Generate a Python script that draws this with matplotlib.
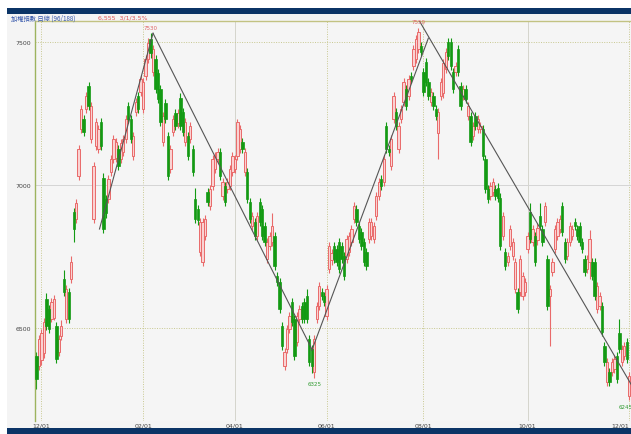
import numpy as np
import matplotlib.pyplot as plt
from matplotlib.patches import Rectangle

# daily candles (price units)
OPEN = [
    6400, 6365, 6385, 6410, 6600, 6565, 6530, 6535, 6505, 6415,
    6470, 6670, 6530, 6625, 6670, 6905, 6880, 7030, 7195, 7230,
    7265, 7345, 7160, 6880, 7135, 7125, 7220, 7025, 6950, 6950,
    7045, 7090, 7095, 7125, 7090, 7115, 7160, 7275, 7230, 7100,
    7255, 7310, 7325, 7265, 7380, 7440, 7510, 7395, 7440, 7390,
    7335, 7150, 7285, 7170, 7055, 7185, 7250, 7215, 7305, 7255,
    7150, 7170, 7160, 7125, 6950, 6915, 6765, 6730, 6820, 6975,
    6925, 6995, 7055, 7090, 7115, 6960, 6995, 6985, 6995, 7045,
    7055, 7100, 7125, 7150, 7045, 7045, 6940, 6855, 6870, 6820,
    6940, 6915, 6855, 6740, 6785, 6800, 6820, 6680, 6660, 6505,
    6365, 6425, 6495, 6590, 6530, 6450, 6530, 6575, 6590, 6610,
    6460, 6425, 6345, 6530, 6575, 6625, 6610, 6540, 6705, 6735,
    6785, 6775, 6800, 6785, 6750, 6740, 6765, 6800, 6880, 6915,
    6855, 6835, 6800, 6765, 6810, 6820, 6810, 6890, 6960, 7020,
    7010, 7205, 7125, 7065, 7230, 7255, 7125, 7230, 7290, 7335,
    7310, 7380, 7415, 7440, 7475, 7485, 7395, 7430, 7360, 7290,
    7310, 7265, 7180, 7310, 7320, 7405, 7500, 7500, 7395, 7395,
    7475, 7345, 7310, 7335, 7240, 7240, 7170, 7240, 7195, 7195,
    7195, 7090, 6985, 6960, 6975, 6985, 6990, 6955, 6820, 6765,
    6730, 6785, 6750, 6635, 6625, 6625, 6610, 6625, 6775, 6905,
    6800, 6820, 6805, 6890, 6845, 6870, 6740, 6610, 6695, 6775,
    6820, 6845, 6925, 6800, 6750, 6800, 6820, 6870, 6845, 6855,
    6800, 6740, 6705, 6730, 6730, 6730, 6565, 6575, 6575, 6435,
    6310, 6345, 6345, 6355, 6400, 6480, 6380, 6400, 6450, 6260,
]
HIGH = [
    6415, 6475, 6495, 6535, 6620, 6580, 6605, 6615, 6520, 6475,
    6525, 6700, 6650, 6640, 6750, 6920, 6950, 7140, 7280, 7245,
    7325, 7360, 7290, 7080, 7235, 7210, 7235, 7040, 6965, 7035,
    7105, 7175, 7165, 7140, 7160, 7175, 7245, 7290, 7245, 7185,
    7305, 7325, 7385, 7375, 7455, 7515, 7530, 7490, 7455, 7405,
    7350, 7255, 7300, 7185, 7140, 7245, 7265, 7265, 7320, 7270,
    7235, 7185, 7220, 7140, 6990, 6930, 6885, 6885, 6895, 6990,
    7000, 7105, 7115, 7130, 7130, 7025, 7010, 7025, 7070, 7115,
    7105, 7230, 7210, 7165, 7130, 7060, 6955, 6905, 6885, 6905,
    6955, 6930, 6870, 6815, 6835, 6900, 6835, 6695, 6675, 6520,
    6430, 6510, 6555, 6605, 6545, 6555, 6580, 6590, 6605, 6635,
    6475, 6440, 6475, 6590, 6660, 6640, 6625, 6650, 6800, 6775,
    6800, 6790, 6815, 6800, 6765, 6825, 6835, 6860, 6940, 6930,
    6870, 6850, 6815, 6780, 6885, 6885, 6870, 6975, 7025, 7035,
    7105, 7220, 7140, 7175, 7325, 7270, 7220, 7280, 7375, 7350,
    7385, 7395, 7490, 7525, 7550, 7500, 7410, 7445, 7375, 7340,
    7325, 7280, 7270, 7375, 7440, 7480, 7515, 7515, 7410, 7430,
    7490, 7360, 7350, 7350, 7290, 7255, 7220, 7255, 7245, 7220,
    7210, 7105, 7000, 7010, 7025, 7000, 7005, 6970, 6905, 6780,
    6765, 6860, 6815, 6745, 6640, 6755, 6695, 6675, 6835, 6935,
    6860, 6835, 6865, 6935, 6860, 6940, 6755, 6650, 6745, 6860,
    6885, 6895, 6940, 6815, 6815, 6870, 6860, 6885, 6860, 6870,
    6815, 6755, 6755, 6840, 6745, 6745, 6660, 6625, 6590, 6450,
    6395, 6360, 6395, 6405, 6415, 6530, 6440, 6450, 6465, 6345,
]
LOW = [
    6285, 6350, 6370, 6395, 6490, 6480, 6520, 6525, 6375, 6400,
    6455, 6610, 6515, 6515, 6655, 6800, 6865, 7015, 7180, 7170,
    7250, 7260, 7145, 6865, 7120, 7110, 7120, 6830, 6885, 6935,
    7030, 7075, 7080, 7050, 7075, 7100, 7145, 7215, 7145, 7085,
    7240, 7250, 7310, 7250, 7365, 7425, 7445, 7380, 7320, 7285,
    7205, 7135, 7215, 7015, 7040, 7170, 7190, 7200, 7190, 7170,
    7135, 7085, 7145, 7030, 6865, 6860, 6750, 6715, 6805, 6925,
    6910, 6980, 7040, 7075, 7015, 6945, 6925, 6970, 6980, 7030,
    7040, 7085, 7110, 7110, 7030, 6935, 6865, 6840, 6805, 6805,
    6855, 6805, 6785, 6725, 6770, 6785, 6700, 6645, 6550, 6420,
    6350, 6410, 6480, 6505, 6385, 6435, 6515, 6515, 6515, 6515,
    6365, 6340, 6325, 6515, 6560, 6595, 6575, 6525, 6690, 6720,
    6725, 6715, 6690, 6725, 6665, 6725, 6750, 6785, 6865, 6855,
    6795, 6770, 6715, 6700, 6795, 6805, 6795, 6875, 6945, 6980,
    6995, 7110, 7100, 7050, 7215, 7190, 7110, 7215, 7275, 7260,
    7295, 7355, 7400, 7425, 7460, 7450, 7310, 7345, 7295, 7275,
    7260, 7225, 7090, 7295, 7305, 7390, 7435, 7400, 7320, 7380,
    7380, 7260, 7295, 7285, 7225, 7135, 7155, 7190, 7180, 7180,
    7085, 6970, 6935, 6945, 6960, 6945, 6940, 6770, 6805, 6700,
    6715, 6770, 6735, 6620, 6550, 6610, 6595, 6610, 6760, 6795,
    6785, 6715, 6790, 6840, 6785, 6855, 6560, 6435, 6680, 6760,
    6805, 6830, 6820, 6725, 6735, 6785, 6805, 6840, 6805, 6785,
    6760, 6680, 6690, 6670, 6665, 6595, 6550, 6560, 6470, 6365,
    6295, 6295, 6330, 6340, 6305, 6410, 6365, 6385, 6375, 6245,
]
CLOSE = [
    6320, 6460, 6480, 6520, 6505, 6495, 6590, 6600, 6390, 6460,
    6505, 6625, 6635, 6530, 6730, 6845, 6935, 7125, 7265, 7185,
    7310, 7275, 7275, 7065, 7220, 7195, 7135, 6845, 6900, 7020,
    7090, 7160, 7150, 7065, 7145, 7160, 7230, 7230, 7160, 7170,
    7290, 7265, 7370, 7360, 7440, 7495, 7460, 7475, 7335, 7300,
    7220, 7240, 7230, 7030, 7125, 7230, 7205, 7250, 7205, 7185,
    7220, 7100, 7205, 7045, 6880, 6875, 6870, 6870, 6880, 6940,
    6985, 7090, 7100, 7115, 7030, 7010, 6940, 7010, 7055, 7100,
    7090, 7220, 7195, 7125, 7115, 6950, 6880, 6890, 6820, 6890,
    6870, 6820, 6800, 6800, 6820, 6855, 6715, 6660, 6565, 6435,
    6415, 6495, 6540, 6520, 6400, 6540, 6565, 6530, 6530, 6530,
    6380, 6365, 6460, 6575, 6645, 6610, 6590, 6635, 6785, 6760,
    6740, 6730, 6705, 6740, 6680, 6810, 6820, 6845, 6925, 6870,
    6810, 6785, 6730, 6715, 6870, 6870, 6855, 6960, 7010, 6995,
    7090, 7125, 7115, 7160, 7310, 7205, 7205, 7265, 7360, 7275,
    7370, 7370, 7475, 7510, 7535, 7465, 7325, 7360, 7310, 7325,
    7275, 7240, 7255, 7360, 7425, 7465, 7450, 7415, 7335, 7415,
    7395, 7275, 7335, 7300, 7275, 7150, 7205, 7205, 7230, 7205,
    7100, 6985, 6950, 6995, 7010, 6960, 6955, 6785, 6890, 6715,
    6750, 6845, 6800, 6730, 6565, 6740, 6680, 6660, 6820, 6810,
    6845, 6730, 6850, 6855, 6800, 6925, 6575, 6635, 6730, 6845,
    6870, 6880, 6835, 6740, 6800, 6855, 6845, 6855, 6820, 6800,
    6775, 6695, 6740, 6810, 6680, 6610, 6645, 6610, 6485, 6380,
    6380, 6310, 6380, 6390, 6320, 6425, 6425, 6435, 6390, 6330,
]

TICK_POS = [2, 43, 80, 117, 156, 198, 239]
TICK_LABELS = ['12/01', '02/01', '04/01', '06/01', '08/01', '10/01', '12/01']
Y_TICKS = [6500, 7000, 7500]

# trend lines (start idx, start price, end idx, end price)
TRENDS = [
    (25.4, 6845, 47, 7530),
    (47, 7530, 111, 6425),
    (111, 6420, 158, 7513),
    (154.4, 7573, 240.5, 6290),
]

# labelled pivots: (idx, use high?)
PIVOTS = [(46, True), (154, True), (112, False), (239, False)]

W, H = 631, 435
fig = plt.figure(figsize=(W / 100, H / 100), dpi=100)
fig.patch.set_facecolor('white')

# panel + navy bands
fig.add_artist(Rectangle((7 / W, 0), 1, (H - 9) / H, transform=fig.transFigure,
                         facecolor='#f4f4f4', edgecolor='none', zorder=0))
fig.add_artist(Rectangle((7 / W, (H - 15) / H), 1, 6 / H, transform=fig.transFigure,
                         facecolor='#0b3466', edgecolor='none', zorder=5))
fig.add_artist(Rectangle((7 / W, 0), 1, 6 / H, transform=fig.transFigure,
                         facecolor='#0b3466', edgecolor='none', zorder=5))

ax = fig.add_axes([35 / W, 13 / H, 596 / W, 400 / H])
ax.set_facecolor('#f5f5f5')

o = np.array(OPEN, float)
hi = np.array(HIGH, float)
lo = np.array(LOW, float)
c = np.array(CLOSE, float)
x = np.arange(len(o))
up = c >= o

red_edge = '#e96a6a'
red_face = '#fad2d2'
green = '#139a13'

ax.vlines(x[up], lo[up], hi[up], color=red_edge, lw=0.8, zorder=2)
ax.vlines(x[~up], lo[~up], hi[~up], color=green, lw=0.8, zorder=2)

bottom = np.minimum(o, c)
height = np.maximum(np.abs(c - o), 7)
ax.bar(x[up], height[up], bottom=bottom[up], width=0.95,
       facecolor=red_face, edgecolor=red_edge, lw=0.7, zorder=3)
ax.bar(x[~up], height[~up], bottom=bottom[~up], width=0.95,
       facecolor=green, edgecolor=green, lw=0.5, zorder=3)

for x0, y0, x1, y1 in TRENDS:
    ax.plot([x0, x1], [y0, y1], color='#555555', lw=0.8, zorder=4)

# grid
dots = (0, (1, 1.5))
for p in TICK_POS:
    if p in (80, 198):
        ax.axvline(p, color='#d4d4cc', lw=0.7, zorder=1)
    else:
        ax.axvline(p, color='#c8c890', lw=0.7, ls=dots, zorder=1)
for v in Y_TICKS:
    if v == 7000:
        ax.axhline(v, color='#d4d4d4', lw=0.7, zorder=1)
    else:
        ax.axhline(v, color='#c8c890', lw=0.7, ls=dots, zorder=1)

for i, top in PIVOTS:
    ha = 'right' if i == len(o) - 1 else 'center'
    xi = i + 1.2 if ha == 'right' else i
    if top:
        ax.text(xi, hi[i] + 12, '%d' % hi[i], color='#e06666', fontsize=4,
                ha=ha, va='bottom', clip_on=False, zorder=6)
    else:
        ax.text(xi, lo[i] - 12, '%d' % lo[i], color='#2f9a2f', fontsize=4,
                ha=ha, va='top', clip_on=False, zorder=6)

ax.set_xlim(-0.6, 239.7)
ax.set_ylim(6173, 7573)
ax.set_xticks(TICK_POS, TICK_LABELS)
ax.set_yticks(Y_TICKS, [str(v) for v in Y_TICKS])
ax.tick_params(length=0, labelsize=4.5, colors='#444444')
ax.tick_params(axis='x', pad=1)
ax.tick_params(axis='y', pad=3)
ax.get_xticklabels()[-1].set_horizontalalignment('right')

for s in ('right', 'bottom'):
    ax.spines[s].set_visible(False)
ax.spines['top'].set_color('#c2c282')
ax.spines['top'].set_linewidth(1.0)
ax.spines['left'].set_color('#9db35e')
ax.spines['left'].set_linewidth(1.0)

cjk = ['Noto Sans CJK TC', 'DejaVu Sans']
fig.text(11 / W, 1 - 18.5 / H, '加權指數 日線 (96/188)', color='#3355aa',
         fontsize=4.5, va='center', family=cjk)
fig.text(98 / W, 1 - 18.5 / H, '6,555  3/1/3.5%', color='#e05555',
         fontsize=4.5, va='center')

fig.savefig('out.png', dpi=100)
